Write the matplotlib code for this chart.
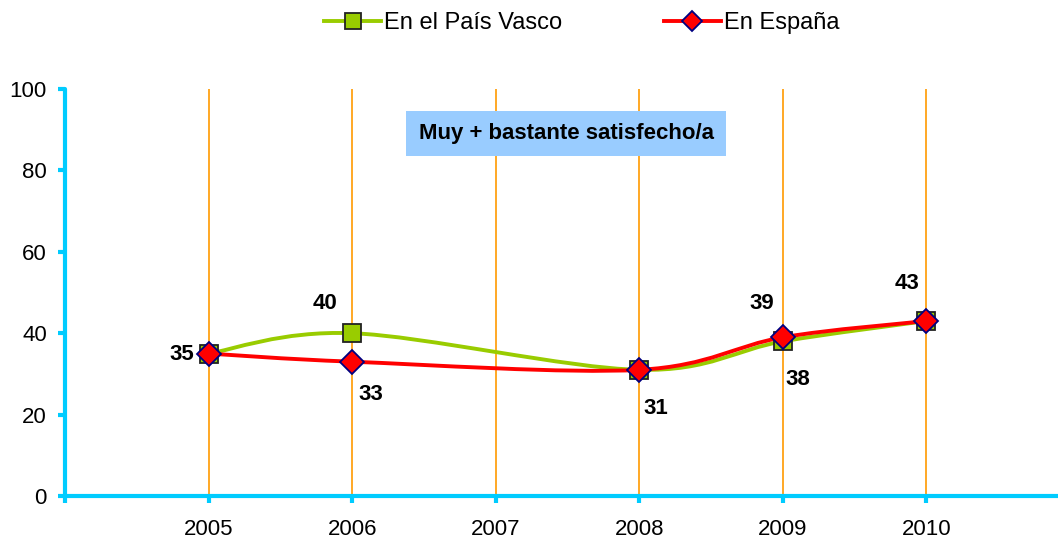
import matplotlib
matplotlib.use('Agg')
import matplotlib.pyplot as plt
from matplotlib.path import Path
from matplotlib.patches import PathPatch
from matplotlib.lines import Line2D

plt.rcParams['font.family'] = ['Liberation Sans', 'DejaVu Sans']

years = [2005, 2006, 2007, 2008, 2009, 2010]
vasco_years = [2005, 2006, 2008, 2009, 2010]
vasco = [35, 40, 31, 38, 43]
espana_years = [2005, 2006, 2008, 2009, 2010]
espana = [35, 33, 31, 39, 43]

vasco_label = 'En el País Vasco'
espana_label = 'En España'
title_text = 'Muy + bastante satisfecho/a'

GREEN = '#99CC00'
RED = '#FF0000'
CYAN = '#00CCFF'
ORANGE = '#FF9900'


def smooth_path(xs, ys):
    # Excel-like smoothed line: cubic bezier segments through the data points
    verts = [(xs[0], ys[0])]
    codes = [Path.MOVETO]
    n = len(xs)
    for i in range(n - 1):
        x0, y0 = xs[max(i - 1, 0)], ys[max(i - 1, 0)]
        x1, y1 = xs[i], ys[i]
        x2, y2 = xs[i + 1], ys[i + 1]
        x3, y3 = xs[min(i + 2, n - 1)], ys[min(i + 2, n - 1)]
        c1 = (x1 + (x2 - x0) / 6, y1 + (y2 - y0) / 6)
        c2 = (x2 - (x3 - x1) / 6, y2 - (y3 - y1) / 6)
        verts += [c1, c2, (x2, y2)]
        codes += [Path.CURVE4] * 3
    return Path(verts, codes)


fig = plt.figure(figsize=(10.58, 5.40), dpi=100)
ax = fig.add_axes([65 / 1058, 44 / 540, 1005 / 1058, 407 / 540])
ax.set_xlim(2004, 2011)
ax.set_ylim(0, 100)

for y in years:
    ax.axvline(y, color=ORANGE, lw=1.2, zorder=1)

ax.add_patch(PathPatch(smooth_path(vasco_years, vasco), fill=False,
                       edgecolor=GREEN, lw=2.8, zorder=3))
ax.add_patch(PathPatch(smooth_path(espana_years, espana), fill=False,
                       edgecolor=RED, lw=2.8, zorder=4))
ax.plot(vasco_years, vasco, ls='none', marker='s', ms=13, mfc=GREEN,
        mec='#222222', mew=1.3, zorder=5, clip_on=False)
ax.plot(espana_years, espana, ls='none', marker='D', ms=12, mfc=RED,
        mec='#000080', mew=1.3, zorder=6, clip_on=False)

# data labels (offsets in pixels)
vasco_offsets = [(-27, -1), (-27, 30), None, (15, -38), (-19, 37)]
espana_offsets = [None, (19, -33), (17, -39), (-21, 34), None]
for xv, yv, off in zip(vasco_years, vasco, vasco_offsets):
    if off:
        ax.annotate(str(yv), (xv, yv), xytext=off, textcoords='offset pixels',
                    ha='center', va='center', fontsize=16, fontweight='bold')
for xv, yv, off in zip(espana_years, espana, espana_offsets):
    if off:
        ax.annotate(str(yv), (xv, yv), xytext=off, textcoords='offset pixels',
                    ha='center', va='center', fontsize=16, fontweight='bold')

ax.text(2007.49, 89.0, title_text, ha='center', va='center', fontsize=16,
        fontweight='bold',
        bbox=dict(boxstyle='square,pad=0.55', fc='#99CCFF', ec='none'))

for side in ['top', 'right']:
    ax.spines[side].set_visible(False)
for side in ['left', 'bottom']:
    ax.spines[side].set_color(CYAN)
    ax.spines[side].set_linewidth(3)
    ax.spines[side].set_capstyle('round')

ax.set_yticks([0, 20, 40, 60, 80, 100])
ax.set_xticks([2004] + years)
ax.set_xticklabels([''] + [str(y) for y in years])
ax.tick_params(axis='both', direction='out', length=5, width=3, color=CYAN,
               labelsize=16)
ax.tick_params(axis='x', pad=11.5)
ax.tick_params(axis='y', pad=8)

handles = [
    Line2D([], [], color=GREEN, lw=2.8, marker='s', ms=11, mfc=GREEN,
           mec='#222222', mew=1.3),
    Line2D([], [], color=RED, lw=2.8, marker='D', ms=10, mfc=RED,
           mec='#000080', mew=1.3),
]
fig.legend(handles, [vasco_label, espana_label], loc='center',
           bbox_to_anchor=(582 / 1058, 1 - 23 / 540), ncol=2, frameon=False,
           fontsize=17, handlelength=2.4, handletextpad=0.15,
           columnspacing=4.3)

fig.savefig('out.png', dpi=100)
